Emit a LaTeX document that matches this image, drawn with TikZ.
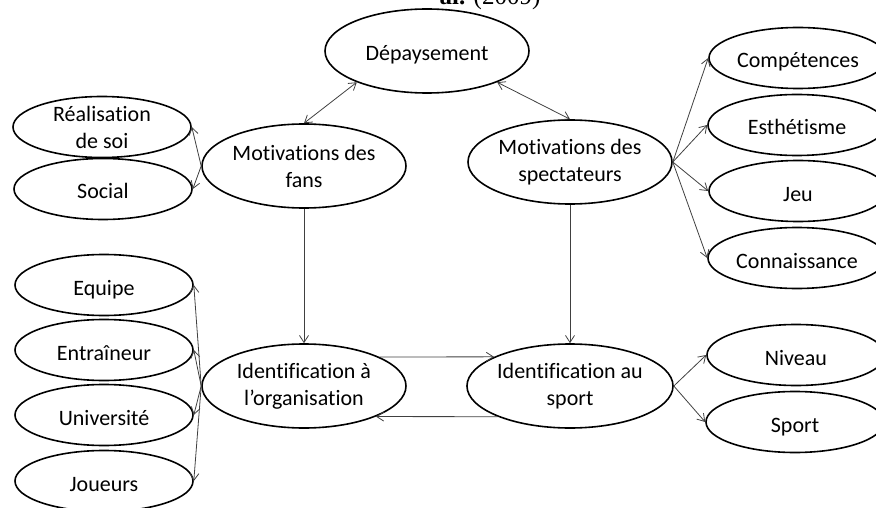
\documentclass[tikz,border=0pt]{standalone}
\usepackage{fontspec}
\setmainfont{Carlito}[Ligatures={NoCommon}]
\newfontfamily\serifhead{Liberation Serif}
\usetikzlibrary{shapes.geometric,arrows.meta}
\tikzset{
  ell/.style={ellipse, draw=black, line width=1.6pt, inner sep=0pt,
    font=\fontsize{22}{27}\selectfont, align=center},
  big/.style={ell, minimum width=204pt, minimum height=84pt},
  small/.style={ell, minimum width=178pt, minimum height=61pt},
  one/.style={text height=20pt, text depth=0pt},
  con/.style={draw=black!75, line width=0.8pt},
  tip/.style={-{Straight Barb[length=7pt,width=9pt]}},
  tips/.style={{Straight Barb[length=7pt,width=9pt]}-{Straight Barb[length=7pt,width=9pt]}}
}
\begin{document}
\begin{tikzpicture}[x=1pt,y=-1pt]
\useasboundingbox (0,0) rectangle (876,508);
\clip (0,0) rectangle (876,508);
\node[font=\serifhead\fontsize{25}{28}\selectfont, anchor=base] (title) at (490,5) {\textbf{al.} (2009)};
% central nodes
\node[big,one] (dep) at (427,51) {Dépaysement};
\node[big] (fans) at (304,166) {Motivations des\\fans};
\node[big] (spec) at (570,162) {Motivations des\\spectateurs};
\node[big] (org) at (304,386) {Identification à\\l’organisation};
\node[big] (sport) at (570,386) {Identification au\\sport};
% left top
\node[small] (real) at (102,127) {Réalisation\\de soi};
\node[small,one] (soc) at (103,189) {Social};
% right top
\node[small,one] (comp) at (798,58) {Compétences};
\node[small,one] (esth) at (797,125) {Esthétisme};
\node[small,one] (jeu) at (798,191) {Jeu};
\node[small,one] (conn) at (797,258) {Connaissance};
% left bottom
\node[small,one] (equ) at (104,285) {Equipe};
\node[small,one] (ent) at (104,350) {Entraîneur};
\node[small,one] (univ) at (104,415) {Université};
\node[small,one] (joue) at (104,481) {Joueurs};
% right bottom
\node[small,one] (niv) at (796,355) {Niveau};
\node[small,one] (spo) at (795,422) {Sport};
% connectors
\draw[con,tips] (dep.204) -- (fans.north);
\draw[con,tips] (dep.336) -- (spec.north);
\draw[con,tip] (fans.west) -- (real.east);
\draw[con,tip] (fans.west) -- (soc.east);
\draw[con,tip] (spec.east) -- (comp.west);
\draw[con,tip] (spec.east) -- (esth.west);
\draw[con,tip] (spec.east) -- (jeu.west);
\draw[con,tip] (spec.east) -- (conn.west);
\draw[con,tip] (fans.south) -- (org.north);
\draw[con,tip] (spec.south) -- (sport.north);
\draw[con,tip] (org.21) -- (sport.159);
\draw[con,tip] (sport.203) -- (org.337);
\draw[con,tip] (org.west) -- (equ.east);
\draw[con,tip] (org.west) -- (ent.east);
\draw[con,tip] (org.west) -- (univ.east);
\draw[con,tip] (org.west) -- (joue.east);
\draw[con,tip] (sport.east) -- (niv.west);
\draw[con,tip] (sport.east) -- (spo.west);
\end{tikzpicture}
\end{document}
